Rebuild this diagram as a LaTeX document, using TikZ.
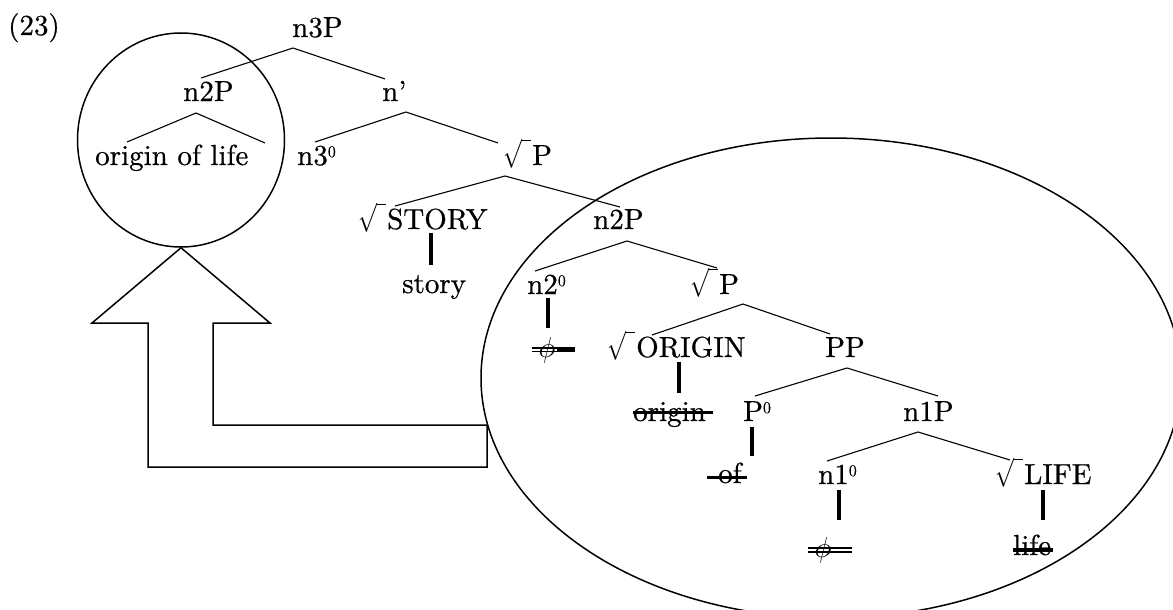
\RequirePackage{fix-cm}
\documentclass[tikz,border=0pt]{standalone}
\usepackage{fontspec}
\setmainfont{lmroman10-regular}[Extension=.otf, FakeBold=0.6]
\usepackage{graphicx}
\usetikzlibrary{shapes.geometric}
% radical sign with a short bar, set before a category label
\newcommand{\myroot}{\makebox[29pt][l]{\scalebox{0.78}[1]{$\sqrt{\vphantom{S}\hspace{12pt}}$}}}
% head index written as a small raised zero
\newcommand{\headzero}{\raisebox{8pt}{\fontsize{16}{16}\selectfont 0}}
\begin{document}
\begin{tikzpicture}[x=1pt,y=-1pt,
  lbl/.style={inner sep=0pt, anchor=base west, font=\fontsize{29}{34}\selectfont},
  branch/.style={line width=1.1pt},
  bar/.style={line width=3.6pt},
  strike/.style={line width=3pt},
  dstrike/.style={line width=1.2pt},
  ring/.style={draw, ellipse, line width=1.5pt, inner sep=0pt},
  bigarrow/.style={line width=1.5pt, line join=miter}]
\useasboundingbox (0,0) rectangle (1173,610);

% the two encircled constituents
\node[ring, minimum width=207pt, minimum height=214pt] (moved) at (181,140) {};
\node[ring, minimum width=700pt, minimum height=480pt] (source) at (831,378) {};

% labels
\node[lbl] (ex) at (8,35) {(23)};
\node[lbl] (n3P) at (292,37) {n3P};
\node[lbl] (n2Pa) at (183,101) {n2P};
\node[lbl] (ool) at (95,165) {origin of life};
\node[lbl] (nbar) at (382,101) {n’};
\node[lbl] (n3h) at (297,165) {n3\headzero};
\node[lbl] (rPa) at (503,165) {\myroot P};
\node[lbl] (rSTORY) at (358,229) {\myroot STORY};
\node[lbl] (story) at (402,293) {story};
\node[lbl] (n2Pb) at (593,229) {n2P};
\node[lbl] (n2h) at (527,294) {n2\headzero};
\node[lbl] (rPb) at (690,294) {\myroot P};
\node[lbl, anchor=base] (phiA) at (547,357) {$\phi$};
\node[lbl] (rORIGIN) at (607,357) {\myroot ORIGIN};
\node[lbl] (PP) at (825,357) {PP};
\node[lbl] (origin) at (633,421) {origin};
\node[lbl] (P0) at (743,421) {P\headzero};
\node[lbl] (n1P) at (903,421) {n1P};
\node[lbl] (of) at (718,483) {of};
\node[lbl] (n1h) at (818,484) {n1\headzero};
\node[lbl] (rLIFE) at (995,484) {\myroot LIFE};
\node[lbl, anchor=base] (phiB) at (823,557) {$\phi$};
\node[lbl] (life) at (1013,555) {life};

% branching lines: name / apex / left end / right end
\foreach \nm/\ax/\ay/\lx/\ly/\rx/\ry in {
  t3P/293/48/201/78/385/79,
  t2Pa/196/113/127/142/265/143,
  tbar/406/112/315/142/498/143,
  tPa/505/176/395/206/620/207,
  t2Pb/627/241/535/271/717/268,
  tPb/743/304/652/335/830/334,
  tPP/847/368/755/396/938/396,
  t1P/918/432/827/461/1010/460}{
  \coordinate (\nm-a) at (\ax,\ay);
  \coordinate (\nm-l) at (\lx,\ly);
  \coordinate (\nm-r) at (\rx,\ry);
  \draw[branch] (\nm-l) -- (\nm-a) -- (\nm-r);
}

% non-branching links: name / x / top / bottom
\foreach \nm/\x/\t/\b in {
  uSTORY/431/233/265,
  un2/548/298/328,
  uORIGIN/679/362/393,
  uP/752/427/456,
  un1/839/490/520,
  uLIFE/1043/490/520}{
  \coordinate (\nm-t) at (\x,\t);
  \coordinate (\nm-b) at (\x,\b);
  \draw[bar] (\nm-t) -- (\nm-b);
}

% deleted copies
\draw[strike] (origin.base west) ++(0,-9) -- ++(80,0);
\draw[strike] (of.base west) ++(-11,-6) -- ++(40,0);
\draw[strike, line width=3.6pt] (life.base west) ++(0,-5) -- ++(40,0);
\draw[dstrike] (phiA.base) ++(-15,-9) -- ++(43,0);
\draw[dstrike] (phiA.base) ++(-15,-5.5) -- ++(43,0);
\draw[strike] (phiA.base) ++(10,-7.2) -- ++(18,0);
\draw[dstrike] (phiB.base) ++(-15,-9) -- ++(44,0);
\draw[dstrike] (phiB.base) ++(-15,-5) -- ++(44,0);

% movement arrow from the lower constituent up to the moved one
\draw[bigarrow] (487,467) -- (148,467) -- (148,323) -- (92,323) -- (moved.south)
  -- (270,323) -- (213,323) -- (213,425) -- (487,425) -- cycle;
\end{tikzpicture}
\end{document}
